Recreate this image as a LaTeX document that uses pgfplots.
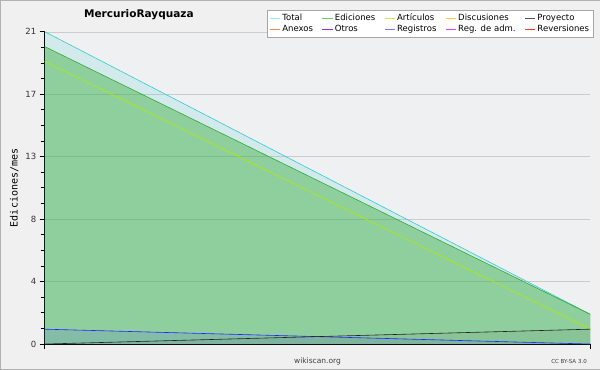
\documentclass[border=0pt]{standalone}
\usepackage{pgfplots}
\pgfplotsset{compat=1.18}
\usepackage{fontspec}
\setmainfont{DejaVu Sans}
\setmonofont{DejaVu Sans Mono}
\definecolor{bgout}{HTML}{F0F0F0}
\definecolor{bgplot}{HTML}{EFF0F2}
\definecolor{cTotal}{HTML}{33CCCC}
\definecolor{cEd}{HTML}{33AA33}
\definecolor{cArt}{HTML}{AAEE00}
\definecolor{cReg}{HTML}{2222FF}
\definecolor{cProy}{HTML}{222222}
\definecolor{lTotal}{HTML}{99EEEE}
\definecolor{lEd}{HTML}{66CC66}
\definecolor{lArt}{HTML}{CCEE44}
\definecolor{lDis}{HTML}{FFCC33}
\definecolor{lProy}{HTML}{555555}
\definecolor{lAnx}{HTML}{FF8844}
\definecolor{lOtr}{HTML}{8833EE}
\definecolor{lReg}{HTML}{7777FF}
\definecolor{lRadm}{HTML}{DD44EE}
\definecolor{lRev}{HTML}{FF3333}
\begin{document}
\begin{tikzpicture}[x=1pt,y=1pt]
\draw[fill=bgout,draw=gray!60] (0.5,0.5) rectangle (599.5,369.5);
\node[font=\bfseries\fontsize{10.5}{12}\selectfont] at (139,355) {MercurioRayquaza};
\node[font=\fontsize{7.5}{9}\selectfont, text=black!75] at (317.5,9) {wikiscan.org};
\node[font=\fontsize{5.5}{7}\selectfont, text=black!75, anchor=east] at (590,9) {CC BY-SA 3.0};
\begin{axis}[
  at={(45pt,26pt)}, anchor=south west,
  scale only axis, width=545pt, height=312pt,
  xmin=0, xmax=1, ymin=0, ymax=21,
  axis background/.style={fill=bgplot},
  axis x line*=bottom, axis y line*=left,
  axis line style={black, thick},
  x axis line style={-}, y axis line style={-},
  xtick={0,1}, xticklabels={,},
  ytick={0,4.2,8.4,12.6,16.8,21},
  yticklabels={0,4,8,13,17,21},
  minor y tick num=3,
  tick align=outside,
  major tick length=5pt, minor tick length=4pt,
  tick style={black, thick},
  ymajorgrids, grid style={black!20},
  yticklabel style={font=\fontsize{8.5}{10}\selectfont, text=black!80},
  /pgf/number format/assume math mode=true,
  ylabel={\ttfamily Ediciones/mes},
  ylabel style={font=\fontsize{9}{10}\selectfont},
  every axis y label/.style={at={(ticklabel cs:0.5)}, rotate=90, anchor=south, xshift=-0pt},
  legend columns=5,
  legend cell align=left,
  legend style={at={(1.0055,1.0705)}, anchor=north east, fill=white, draw=black!35,
    font=\fontsize{8.5}{9.5}\selectfont, inner sep=2pt, row sep=-1pt,
    /tikz/every even column/.append style={column sep=7pt}},
  legend image code/.code={\draw[#1] (0pt,0pt) -- (10pt,0pt);},
  clip=false,
]
\addlegendimage{lTotal, thick}\addlegendentry{Total}
\addlegendimage{lEd, thick}\addlegendentry{Ediciones}
\addlegendimage{lArt, thick}\addlegendentry{Artículos}
\addlegendimage{lDis, thick}\addlegendentry{Discusiones}
\addlegendimage{lProy, thick}\addlegendentry{Proyecto}
\addlegendimage{lAnx, thick}\addlegendentry{Anexos}
\addlegendimage{lOtr, thick}\addlegendentry{Otros}
\addlegendimage{lReg, thick}\addlegendentry{Registros}
\addlegendimage{lRadm, thick}\addlegendentry{Reg. de adm.}
\addlegendimage{lRev, thick}\addlegendentry{Reversiones}
% Total
\addplot[draw=none, fill=cTotal, fill opacity=0.15, forget plot] coordinates {(0,21) (1,2) (1,0) (0,0)} -- cycle;
% Ediciones
\addplot[draw=none, fill=cEd, fill opacity=0.42, forget plot] coordinates {(0,20) (1,2) (1,0) (0,0)} -- cycle;
% Registros fill
\addplot[draw=none, fill=cReg, fill opacity=0.1, forget plot] coordinates {(0,1) (1,0) (1,0) (0,0)} -- cycle;
% Proyecto fill
\addplot[draw=none, fill=cProy, fill opacity=0.06, forget plot] coordinates {(0,0) (1,1) (1,0) (0,0)} -- cycle;
\addplot[cTotal, semithick, forget plot] coordinates {(0,21) (1,2)};
\addplot[cEd, semithick, forget plot] coordinates {(0,20) (1,2)};
\addplot[cArt, semithick, forget plot] coordinates {(0,19) (1,1)};
\addplot[cReg, semithick, forget plot] coordinates {(0,1) (1,0)};
\addplot[cProy, semithick, forget plot] coordinates {(0,0) (1,1)};
\end{axis}
\end{tikzpicture}
\end{document}
